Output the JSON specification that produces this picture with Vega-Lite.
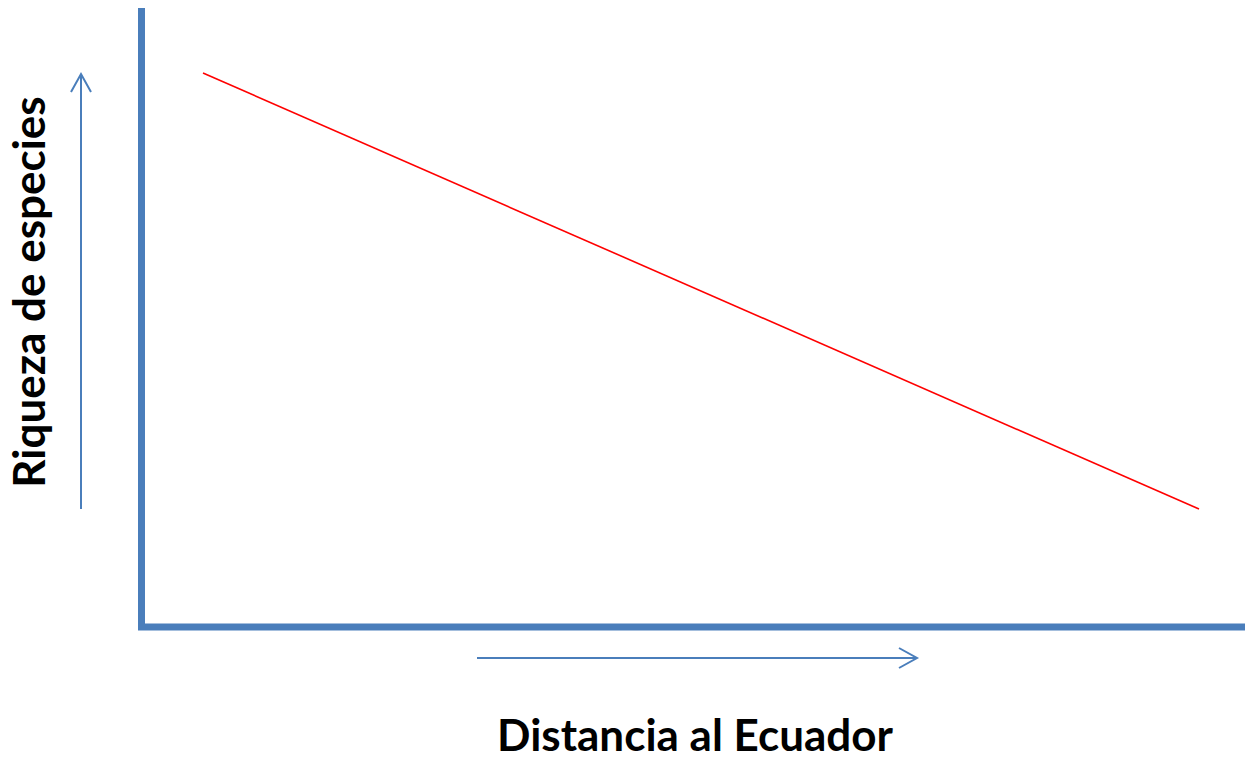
{
  "$schema": "https://vega.github.io/schema/vega-lite/v6.json",
  "width": 1245,
  "height": 761,
  "autosize": "none",
  "padding": 0,
  "background": "white",
  "config": {"view": {"stroke": null}},
  "datasets": {
    "shapes": [
      {"part": "axes", "ord": 1, "x": 141.5, "y": 8},
      {"part": "axes", "ord": 2, "x": 141.5, "y": 627},
      {"part": "axes", "ord": 3, "x": 1245, "y": 627},
      {"part": "trend", "ord": 1, "x": 203, "y": 73},
      {"part": "trend", "ord": 2, "x": 1199, "y": 509},
      {"part": "vshaft", "ord": 1, "x": 81, "y": 509},
      {"part": "vshaft", "ord": 2, "x": 81, "y": 75},
      {"part": "vhead", "ord": 1, "x": 71, "y": 92},
      {"part": "vhead", "ord": 2, "x": 81, "y": 74},
      {"part": "vhead", "ord": 3, "x": 91, "y": 92},
      {"part": "hshaft", "ord": 1, "x": 477, "y": 658},
      {"part": "hshaft", "ord": 2, "x": 916, "y": 658},
      {"part": "hhead", "ord": 1, "x": 899, "y": 648},
      {"part": "hhead", "ord": 2, "x": 917, "y": 658},
      {"part": "hhead", "ord": 3, "x": 899, "y": 668}
    ],
    "labels": [
      {"label": "Distancia al Ecuador", "x": 695, "y": 751, "angle": 0},
      {"label": "Riqueza de especies", "x": 45, "y": 292, "angle": 270}
    ]
  },
  "encoding": {
    "x": {"field": "x", "type": "quantitative", "scale": {"domain": [0, 1245], "nice": false, "zero": false}, "axis": null},
    "y": {"field": "y", "type": "quantitative", "scale": {"domain": [0, 761], "nice": false, "zero": false, "reverse": true}, "axis": null}
  },
  "layer": [
    {
      "data": {"name": "shapes"},
      "transform": [{"filter": "datum.part === 'axes'"}],
      "mark": {"type": "line", "color": "#4a7ebb", "strokeWidth": 7, "strokeCap": "butt", "strokeJoin": "miter"},
      "encoding": {"order": {"field": "ord"}}
    },
    {
      "data": {"name": "shapes"},
      "transform": [{"filter": "datum.part === 'trend'"}],
      "mark": {"type": "line", "color": "#ff0000", "strokeWidth": 1.6},
      "encoding": {"order": {"field": "ord"}}
    },
    {
      "data": {"name": "shapes"},
      "transform": [{"filter": "datum.part !== 'axes' && datum.part !== 'trend'"}],
      "mark": {"type": "line", "color": "#4a7ebb", "strokeWidth": 2, "strokeCap": "butt", "strokeJoin": "miter"},
      "encoding": {"detail": {"field": "part"}, "order": {"field": "ord"}}
    },
    {
      "data": {"name": "labels"},
      "transform": [{"filter": "datum.angle === 0"}],
      "mark": {"type": "text", "font": "Lato", "fontWeight": "bold", "fontSize": 44, "align": "center", "baseline": "alphabetic", "color": "#000000"},
      "encoding": {"text": {"field": "label"}}
    },
    {
      "data": {"name": "labels"},
      "transform": [{"filter": "datum.angle === 270"}],
      "mark": {"type": "text", "font": "Lato", "fontWeight": "bold", "fontSize": 44, "align": "center", "baseline": "alphabetic", "angle": 270, "color": "#000000"},
      "encoding": {"text": {"field": "label"}}
    }
  ]
}
